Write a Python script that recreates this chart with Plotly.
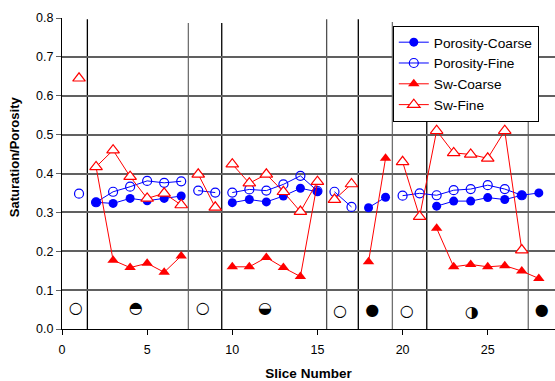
import plotly.graph_objects as go

# Slice numbers; None entries separate the independent segments of the lines
SLICE = [1, None, 2, 3, 4, 5, 6, 7, None, 8, 9, None, 10, 11, 12, 13, 14, 15, None,
         16, 17, None, 18, 19, None, 20, 21, 22, 23, 24, 25, 26, 27, 28]

POROSITY_COARSE = [None, None, 0.326, 0.323, 0.336, 0.330, 0.336, 0.342, None, None, None, None,
                   0.325, 0.333, 0.327, 0.342, 0.362, 0.353, None,
                   None, None, None, 0.312, 0.339, None,
                   None, None, 0.316, 0.329, 0.329, 0.338, 0.333, 0.344, 0.350]
POROSITY_FINE = [0.348, None, 0.326, 0.353, 0.366, 0.381, 0.376, 0.380, None, 0.356, 0.351, None,
                 0.351, 0.359, 0.356, 0.372, 0.394, 0.355, None,
                 0.353, 0.314, None, None, None, None,
                 0.343, 0.349, 0.344, 0.357, 0.360, 0.370, 0.360, 0.344, None]
SW_COARSE = [None, None, 0.417, 0.177, 0.158, 0.169, 0.146, 0.188, None, None, None, None,
             0.160, 0.160, 0.184, 0.158, 0.135, 0.377, None,
             None, None, None, 0.173, 0.439, None,
             None, None, 0.259, 0.160, 0.166, 0.160, 0.163, 0.149, 0.130]
SW_FINE = [0.645, None, 0.417, 0.460, 0.392, 0.336, 0.349, 0.319, None, 0.398, 0.313, None,
           0.424, 0.375, 0.398, 0.353, 0.302, 0.379, None,
           0.333, 0.373, None, None, None, None,
           0.430, 0.289, 0.510, 0.453, 0.449, 0.439, 0.510, 0.203, None]

# Facies symbols along the bottom of the chart
FACIES_X = [0.80, 4.33, 8.26, 11.92, 16.32, 18.22, 20.24, 24.06, 28.17]
FACIES_Y = [0.051, 0.051, 0.052, 0.051, 0.044, 0.046, 0.043, 0.040, 0.046]
FACIES_SYMBOL = ["○", "◓", "○", "◒", "○", "●", "○", "◑", "●"]

# Zone divider lines
DIVIDER_X = [1.49, 7.42, 9.38, 15.54, 17.40, 19.40, 21.42, 27.38]
DIVIDER_TOP = [0.797, 0.787, 0.787, 0.797, 0.797, 0.790, 0.56, 0.56]
DIVIDER_COLOR = ["#000000", "#707070", "#000000", "#505050", "#000000", "#707070", "#000000", "#707070"]

X_TICKS = [0, 5, 10, 15, 20, 25]

BLUE = "#0000FF"
RED = "#FF0000"
FONT = "Liberation Sans, Arial, sans-serif"

fig = go.Figure()

fig.add_trace(go.Scatter(
    x=SLICE, y=POROSITY_COARSE, name="Porosity-Coarse", mode="lines+markers",
    line=dict(color=BLUE, width=1),
    marker=dict(symbol="circle", size=9, color=BLUE),
    connectgaps=False))
fig.add_trace(go.Scatter(
    x=SLICE, y=POROSITY_FINE, name="Porosity-Fine", mode="lines+markers",
    line=dict(color=BLUE, width=1),
    marker=dict(symbol="circle-open", size=9, color=BLUE, line=dict(width=1.2, color=BLUE)),
    connectgaps=False))
fig.add_trace(go.Scatter(
    x=SLICE, y=SW_COARSE, name="Sw-Coarse", mode="lines+markers",
    line=dict(color=RED, width=1),
    marker=dict(symbol="triangle-up", size=10, color=RED),
    connectgaps=False))
fig.add_trace(go.Scatter(
    x=SLICE, y=SW_FINE, name="Sw-Fine", mode="lines+markers",
    line=dict(color=RED, width=1),
    marker=dict(symbol="triangle-up", size=11, color="white", line=dict(width=1.2, color=RED)),
    connectgaps=False))

fig.add_trace(go.Scatter(
    x=FACIES_X, y=FACIES_Y, mode="text", text=FACIES_SYMBOL, showlegend=False,
    textposition="middle center", hoverinfo="skip",
    textfont=dict(family="DejaVu Sans", size=16, color="black")))

for xv, top, col in zip(DIVIDER_X, DIVIDER_TOP, DIVIDER_COLOR):
    fig.add_shape(type="line", xref="x", yref="y", x0=xv, x1=xv, y0=0.0, y1=top,
                  line=dict(color=col, width=1.3), layer="below")

fig.add_annotation(text="<b>Saturation/Porosity</b>", xref="paper", yref="paper",
                   x=-0.097, y=0.553, textangle=-90, showarrow=False,
                   xanchor="center", yanchor="middle",
                   font=dict(family=FONT, size=13, color="black"))

fig.update_layout(
    template="none",
    width=555, height=381,
    margin=dict(l=62, r=0, t=18, b=52),
    paper_bgcolor="white", plot_bgcolor="white",
    font=dict(family=FONT, size=12, color="black"),
    showlegend=True,
    legend=dict(x=0.671, y=0.975, xanchor="left", yanchor="top",
                bgcolor="white", bordercolor="black", borderwidth=1,
                font=dict(family=FONT, size=13.7, color="black"),
                tracegroupgap=0, itemwidth=30, entrywidth=122),
)
fig.update_xaxes(
    range=[0, 28.95], tickvals=X_TICKS, ticks="outside", ticklen=5, tickcolor="black",
    showline=True, linecolor="black", linewidth=1, showgrid=False, zeroline=False,
    automargin=False, ticklabelstandoff=4,
    tickfont=dict(family=FONT, size=12.5, color="black"),
    title=dict(text="<b>Slice Number</b>", font=dict(family=FONT, size=13.5, color="black"), standoff=12))
fig.update_yaxes(
    range=[0, 0.8], dtick=0.1, tickformat=".1f", ticks="outside", ticklen=5, tickcolor="#606060",
    showline=True, linecolor="black", linewidth=1, automargin=False,
    showgrid=True, gridcolor="#606060", gridwidth=1.5, zeroline=False,
    tickfont=dict(family=FONT, size=12.5, color="black"))

fig.write_html("out.html", config={"displayModeBar": False},
               post_script="document.body.style.margin='0';")
